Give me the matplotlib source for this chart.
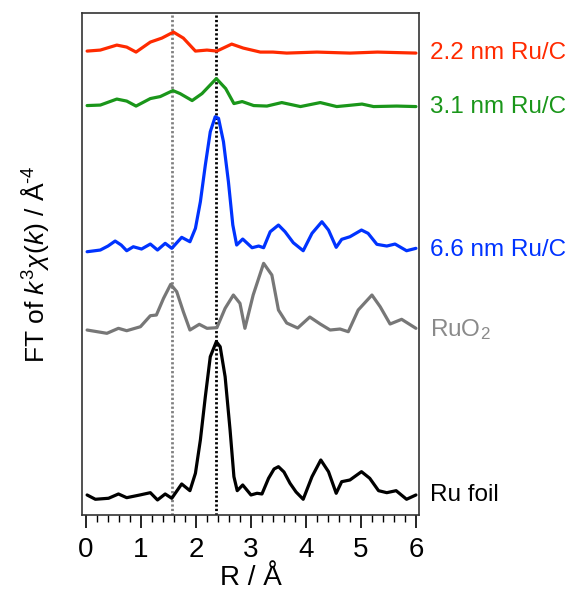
import matplotlib
matplotlib.use("Agg")
import matplotlib.pyplot as plt
import matplotlib.transforms as mtransforms

# ===== данные (R в Å, интенсивность в отн. ед.) =====
r_red = [0.02, 0.26, 0.56, 0.74, 0.91, 1.17, 1.38, 1.59, 1.77, 1.99, 2.20, 2.38,
         2.65, 2.86, 3.17, 3.40, 3.65, 4.20, 4.80, 5.30, 6.00]
i_red = [0.2, 0.3, 0.8, 0.6, 0.1, 1.1, 1.5, 2.1, 1.5, 0.2, 0.3, 0.2,
         0.9, 0.5, 0.1, 0.1, 0.0, 0.1, 0.0, 0.1, 0.0]

r_green = [0.02, 0.26, 0.56, 0.74, 0.91, 1.17, 1.35, 1.58, 1.71, 1.93, 2.11, 2.37,
           2.54, 2.69, 2.84, 3.05, 3.29, 3.56, 3.90, 4.26, 4.56, 4.75, 5.02, 5.23,
           5.65, 6.00]
i_green = [0.1, 0.15, 0.75, 0.55, 0.05, 0.8, 1.0, 1.6, 1.3, 0.6, 1.3, 2.8,
           1.8, 0.3, 0.5, 0.1, 0.05, 0.4, 0.0, 0.4, 0.0, 0.1, 0.25, 0.0,
           0.05, 0.0]

r_blue = [0.02, 0.26, 0.40, 0.53, 0.64, 0.74, 0.86, 1.01, 1.17, 1.30, 1.44, 1.56,
          1.74, 1.89, 1.99, 2.08, 2.17, 2.26, 2.35, 2.41, 2.50, 2.59, 2.67, 2.74,
          2.85, 3.02, 3.14, 3.23, 3.35, 3.50, 3.62, 3.77, 3.95, 4.11, 4.29, 4.41,
          4.55, 4.65, 4.80, 5.01, 5.13, 5.29, 5.47, 5.62, 5.83, 6.00]
i_blue = [-0.17, 0.0, 0.4, 0.9, 0.5, -0.07, 0.33, 0.1, 0.6, 0.0, 0.67, 0.17,
          1.27, 0.83, 2.17, 4.83, 8.5, 11.83, 13.33, 13.17, 10.83, 6.83, 2.5, 0.5,
          1.1, 0.23, 0.4, 0.23, 1.83, 2.5, 1.83, 0.73, -0.07, 1.67, 2.83, 2.0,
          0.27, 1.07, 1.33, 2.0, 1.67, 0.57, 0.4, 0.6, -0.07, 0.17]

r_ruo2 = [0.02, 0.38, 0.59, 0.74, 0.99, 1.17, 1.28, 1.41, 1.54, 1.65, 1.77, 1.89,
          2.06, 2.20, 2.38, 2.53, 2.68, 2.80, 2.89, 3.04, 3.23, 3.38, 3.50, 3.65,
          3.85, 4.07, 4.26, 4.44, 4.62, 4.77, 4.95, 5.20, 5.35, 5.53, 5.74, 6.00]
i_ruo2 = [0.0, -0.33, 0.17, -0.07, 0.33, 1.43, 1.5, 3.17, 4.57, 3.83, 1.83, 0.0,
          0.57, 0.17, 0.23, 2.17, 3.5, 2.67, 0.17, 3.5, 6.67, 5.5, 2.0, 0.7,
          0.2, 1.3, 0.6, 0.0, 0.1, -0.17, 2.0, 3.5, 2.33, 0.6, 1.07, 0.17]

r_foil = [0.02, 0.17, 0.41, 0.59, 0.74, 0.98, 1.17, 1.30, 1.44, 1.56, 1.74, 1.89,
          1.99, 2.08, 2.17, 2.26, 2.37, 2.44, 2.53, 2.62, 2.69, 2.75, 2.85, 3.00,
          3.11, 3.20, 3.32, 3.42, 3.50, 3.60, 3.71, 3.82, 3.95, 4.11, 4.27, 4.41,
          4.55, 4.65, 4.80, 5.01, 5.16, 5.32, 5.47, 5.64, 5.83, 6.00]
i_foil = [0.0, -0.43, -0.33, 0.1, -0.27, 0.0, 0.23, -0.5, 0.1, -0.33, 1.1, 0.43,
          2.17, 5.5, 9.83, 13.83, 15.33, 14.83, 11.83, 6.5, 1.83, 0.43, 1.0, 0.0,
          0.17, 0.1, 1.67, 2.6, 2.83, 2.3, 1.17, 0.3, -0.43, 1.83, 3.5, 2.33,
          0.17, 1.33, 1.5, 2.33, 1.67, 0.43, 0.23, 0.43, -0.43, 0.0]

labels = ["2.2 nm Ru/C", "3.1 nm Ru/C", "6.6 nm Ru/C", "RuO$_2$", "Ru foil"]
refLines = [1.57, 2.37]   # Ru-O и Ru-Ru
# ====================================================

plt.rcParams["font.family"] = ["Liberation Sans", "DejaVu Sans"]
plt.rcParams["mathtext.fontset"] = "custom"
plt.rcParams["mathtext.rm"] = "Liberation Sans"
plt.rcParams["mathtext.it"] = "Liberation Sans:italic"

series = [(r_red, i_red), (r_green, i_green), (r_blue, i_blue),
          (r_ruo2, i_ruo2), (r_foil, i_foil)]
offsets = [46.2, 40.85, 26.5, 18.5, 2.0]
colors = ["#ff2a00", "#1a961a", "#0033ff", "#777777", "#000000"]
textColors = ["#ff2a00", "#1a961a", "#0033ff", "#8a8a8a", "#000000"]

fig = plt.figure(figsize=(5.75, 5.95), dpi=100)
ax = fig.add_axes([0.1426, 0.1345, 0.586, 0.8435])

# вертикальные линии
ax.axvline(refLines[0], color="#808080", linestyle=(0, (0.8, 0.8)), linewidth=2)
ax.axvline(refLines[1], color="#000000", linestyle=(0, (0.8, 0.8)), linewidth=2)

trans = mtransforms.blended_transform_factory(ax.transAxes, ax.transData)
for (r, inten), off, c, tc, lab in zip(series, offsets, colors, textColors, labels):
    ax.plot(r, [v + off for v in inten], color=c, linewidth=2.3,
            solid_joinstyle="round", solid_capstyle="round")
    ax.text(1.033, off, lab, color=tc, fontsize=17.5, va="center", ha="left",
            transform=trans)

ax.set_xlim(-0.073, 6.055)
ax.set_ylim(0, 50.2)
ax.set_xticks(range(7))
ax.set_xticks([x / 5 for x in range(31)], minor=True)
ax.tick_params(axis="x", which="major", direction="out", length=9, width=1.2,
               labelsize=20, pad=7)
ax.tick_params(axis="x", which="minor", direction="out", length=5, width=1)
ax.set_yticks([])
for s in ax.spines.values():
    s.set_linewidth(1.2)
    s.set_color("#333333")

ax.set_xlabel("R / Å", fontsize=20, labelpad=1)
ax.set_ylabel(r"FT of $k^3\chi(k)$ / Å$^{\text{-4}}$", fontsize=19, labelpad=22)

fig.savefig("out.png", dpi=100)
